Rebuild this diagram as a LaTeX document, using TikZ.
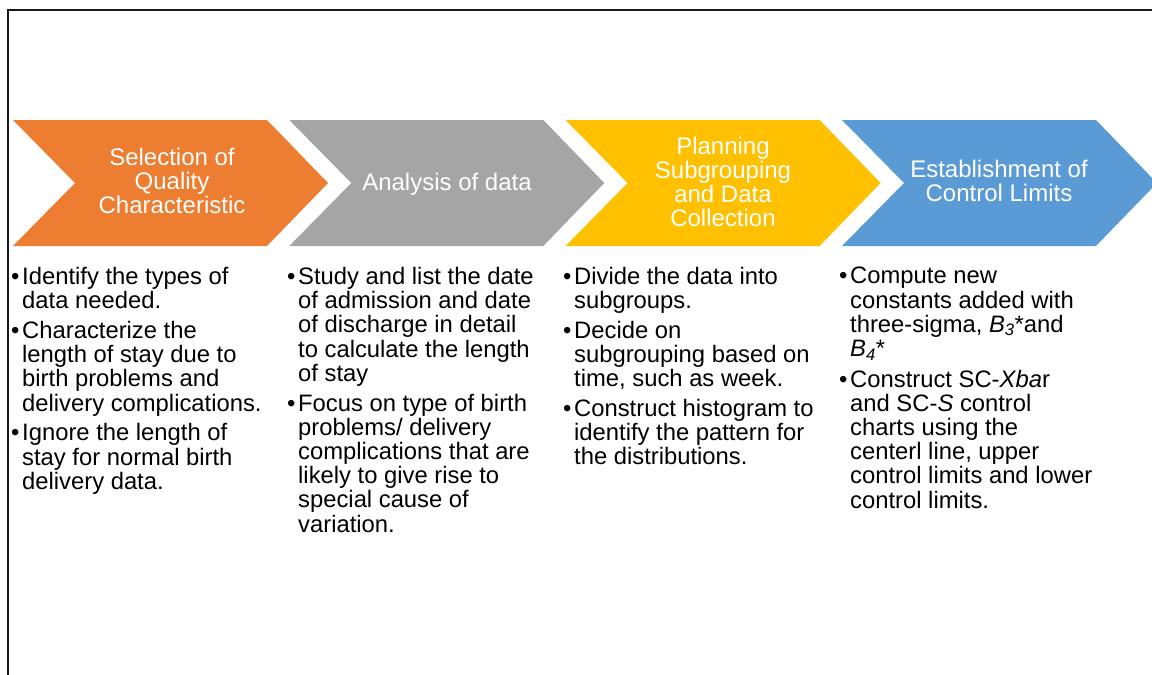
\documentclass[tikz,border=0pt]{standalone}
\usepackage{fontspec}
\setmainfont{Liberation Sans}
\definecolor{stepA}{HTML}{ED7D31}
\definecolor{stepB}{HTML}{A5A5A5}
\definecolor{stepC}{HTML}{FFC000}
\definecolor{stepD}{HTML}{5B9BD5}
% bullet mark and continuation indent for the lists
\newcommand\blt{\makebox[11pt][l]{•}}
\newcommand\cnt{\hspace*{11pt}}
\begin{document}
\begin{tikzpicture}[x=1pt,y=-1pt,
  chevtitle/.style={text=white, align=center, inner sep=0pt,
    font=\fontsize{24}{24}\selectfont},
  bullets/.style={anchor=north west, align=left, inner sep=0pt, text=black,
    font=\fontsize{23.8}{24.2}\selectfont}]
\useasboundingbox (0,0) rectangle (1152,675);
\begin{scope}
\clip (0,0) rectangle (1152,675);
% frame
\draw[line width=2pt, black!90] (8,676) -- (8,10) -- (1153,10);
% process chevrons
\foreach \L/\c in {13/stepA, 289.3/stepB, 565.6/stepC, 842/stepD}
  \fill[\c] (\L,120) -- ++(254,0) -- ++(61,63) -- ++(-61,63)
            -- ++(-254,0) -- ++(62,-63) -- cycle;
\end{scope}

% step titles
\node[chevtitle] (t1) at (172,180.5) {Selection of\\Quality\\Characteristic};
\node[chevtitle] (t2) at (447,184) {Analysis of data};
\node[chevtitle] (t3) at (723,181.5) {Planning\\Subgrouping\\and Data\\Collection};
\node[chevtitle] (t4) at (999,181) {Establishment of\\Control Limits};

% step details
\node[bullets] (l1) at (11,267) {\blt Identify the types of\\
  \cnt data needed.\\[5.6pt]
  \blt Characterize the\\
  \cnt length of stay due to\\
  \cnt birth problems and\\
  \cnt delivery complications.\\[5.6pt]
  \blt Ignore the length of\\
  \cnt stay for normal birth\\
  \cnt delivery data.};

\node[bullets] (l2) at (287,267) {\blt Study and list the date\\
  \cnt of admission and date\\
  \cnt of discharge in detail\\
  \cnt to calculate the length\\
  \cnt of stay\\[5.6pt]
  \blt Focus on type of birth\\
  \cnt problems/ delivery\\
  \cnt complications that are\\
  \cnt likely to give rise to\\
  \cnt special cause of\\
  \cnt variation.};

\node[bullets] (l3) at (563,267) {\blt Divide the data into\\
  \cnt subgroups.\\[5.3pt]
  \blt Decide on\\
  \cnt subgrouping based on\\
  \cnt time, such as week.\\[5.3pt]
  \blt Construct histogram to\\
  \cnt identify the pattern for\\
  \cnt the distributions.};

\node[bullets] (l4) at (839,267) {\blt Compute new\\
  \cnt constants added with\\
  \cnt three-sigma, \textit{B}\textsubscript{\textit{3}}*and\\
  \cnt \textit{B}\textsubscript{\textit{4}}*\\[6.5pt]
  \blt Construct SC-\textit{Xba}r\\
  \cnt and SC-\textit{S} control\\
  \cnt charts using the\\
  \cnt centerl line, upper\\
  \cnt control limits and lower\\
  \cnt control limits.};
\end{tikzpicture}
\end{document}
